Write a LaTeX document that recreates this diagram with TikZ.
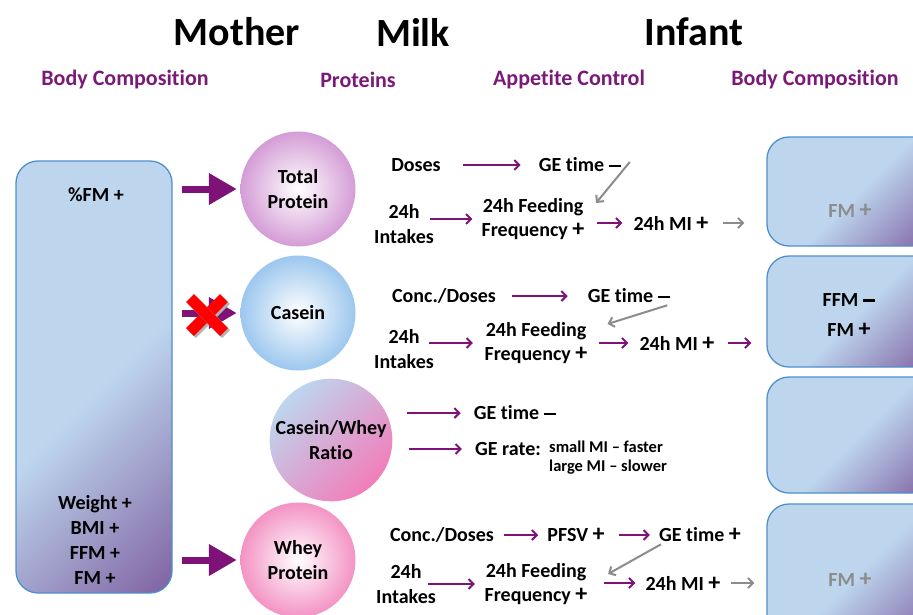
\documentclass[tikz,border=0pt]{standalone}
\usepackage{fontspec}
\setmainfont{Carlito}[Ligatures=NoCommon]
\usepackage{tikz}
\usetikzlibrary{arrows.meta, calc, positioning}

\definecolor{hdpurple}{HTML}{7A1A78}
\definecolor{arrpurple}{HTML}{7E1276}
\definecolor{arrgrey}{HTML}{8C8C8C}
\definecolor{boxblue}{HTML}{BDD6EE}
\definecolor{boxviolet}{HTML}{7E5FA0}
\definecolor{boxedge}{HTML}{4F8FCB}
\definecolor{tpcol}{HTML}{D49CD6}
\definecolor{cascol}{HTML}{9CC7EE}
\definecolor{wheycol}{HTML}{F393C4}
\definecolor{ratpink}{HTML}{F27DBA}

\pgfdeclarehorizontalshading{bodyshade}{100bp}{color(0bp)=(boxblue); color(52bp)=(boxblue); color(86bp)=(boxviolet); color(100bp)=(boxviolet)}

% heavy signs
\newcommand{\dminus}{\rule[0.24em]{0.62em}{0.11em}}
\newcommand{\bplus}{{\fontsize{24}{24}\selectfont +}}

\begin{document}
\begin{tikzpicture}[x=1pt,y=-1pt,
	txt/.style={font=\bfseries\fontsize{20}{24.5}\selectfont, align=center, inner sep=2pt},
	small/.style={font=\bfseries\fontsize{16.5}{19}\selectfont, inner sep=0pt},
	ttl/.style={font=\bfseries\fontsize{40}{44}\selectfont},
	hdr/.style={font=\bfseries\fontsize{22}{26}\selectfont, text=hdpurple},
	bodybox/.style={draw=boxedge, line width=1.3pt, rounded corners=22pt, shade, shading=bodyshade, shading angle=-45},
	ball/.style={circle, minimum size=115pt, inner sep=0pt, txt},
	flow/.style={draw=arrpurple, line width=2pt, -{Straight Barb[length=5pt,width=10pt]}},
	greyflow/.style={flow, draw=arrgrey},
	bigarrow/.style={draw=arrpurple, line width=7pt, -{Triangle[length=28pt,width=30pt]}}]
		\useasboundingbox (0,0) rectangle (913,614);
		\clip (0,0) rectangle (913,614);
		
		% Titles
		\node[ttl] (mother) at (237,32) {Mother};
		\node[ttl] (milk) at (413,32) {Milk};
		\node[ttl] (infant) at (694,32) {Infant};
		\node[hdr] (hmom) at (125,80) {Body Composition};
		\node[hdr] (hprot) at (358,80) {Proteins};
		\node[hdr] (happ) at (569,80) {Appetite Control};
		\node[hdr] (hinf) at (815,80) {Body Composition};
		
		% Mother box
		\node[bodybox, minimum width=156pt, minimum height=432pt] (mombox) at (94,377) {};
		\node[txt] (pfm) at (96,195) {\%FM +};
		\node[txt, font=\bfseries\fontsize{20}{25}\selectfont] (anthro) at (95,540) {Weight +\\BMI +\\FFM +\\FM +};
		
		% Infant boxes
		\foreach \t/\b [count=\i] in {137/246,256/367,377/493,504/640}{
			\node[bodybox, minimum width=168pt, minimum height={(\b-\t)*1pt}] (inf\i) at (851,{(\t+\b)/2}) {};
		}
		\node[txt, text=arrgrey] (fm1) at (850,211) {FM \bplus};
		\node[txt] (ffm2) at (849,300) {FFM \dminus};
		\node[txt] (fm2) at (849,330) {FM \bplus};
		\node[txt, text=arrgrey] (fm4) at (850,580) {FM \bplus};
		
		% Protein circles
		\node[ball, inner color=white, outer color=tpcol] (tp) at (298,189) {Total\\Protein};
		\node[ball, inner color=white, outer color=cascol] (cas) at (298,313) {Casein};
		\node[ball, top color=boxblue, bottom color=ratpink, shading angle=45] (ratio) at (331,440) {Casein/Whey\\Ratio};
		\node[ball, inner color=white, outer color=wheycol] (whey) at (298,560) {Whey\\Protein};
		
		% big arrows
		\foreach \c in {tp,cas,whey}{
			\draw[bigarrow, shorten <=9pt, shorten >=3.5pt] (mombox.east |- \c) -- (\c);
		}
		% red cross
		\coordinate (cross) at (207,315);
		\foreach \s in {-1,1}{
			\draw[black!30, line width=11pt] ([shift={(-17,{-17*\s})}]cross) ++(2,2) -- ++(34,{34*\s});
			\draw[red, line width=11pt] ([shift={(-17,{-17*\s})}]cross) -- ([shift={(17,{17*\s})}]cross);
		}
		
		% Total protein
		\node[txt] (doses1) at (416,165) {Doses};
		\node[txt] (ge1) at (580,165) {GE time \dminus};
		\node[txt] (in1) at (404,224) {24h\\Intakes};
		\node[txt] (ff1) at (533,219) {24h Feeding\\Frequency \bplus};
		\node[txt] (mi1) at (671,223) {24h MI \bplus};
		\draw[flow, shorten <=20pt, shorten >=16pt] (doses1) -- (ge1);
		\draw[greyflow] ([shift={(6.5,-3)}]ge1.east) -- ([shift={(9.5,7)}]ff1.north east);
		\draw[flow, shorten <=-6pt, shorten >=7pt] (in1.east |- ff1) -- (ff1);
		\draw[flow, shorten <=10pt, shorten >=9pt] (ff1.east |- mi1) -- (mi1);
		\draw[greyflow, shorten <=12pt, shorten >=22pt] (mi1) -- (mi1 -| inf1.west);
		
		% Casein
		\node[txt] (conc2) at (444,296) {Conc./Doses};
		\node[txt] (ge2) at (629,296) {GE time \dminus};
		\node[txt] (in2) at (404,349) {24h\\Intakes};
		\node[txt] (ff2) at (536,343) {24h Feeding\\Frequency \bplus};
		\node[txt] (mi2) at (677,343) {24h MI \bplus};
		\draw[flow, shorten <=14pt, shorten >=18pt] (conc2) -- (ge2);
		\draw[greyflow] ([shift={(-5,0)}]ge2.south east) -- ([shift={(18,4)}]ff2.north east);
		\draw[flow, shorten <=-7pt, shorten >=9.5pt] (in2.east |- ff2) -- (ff2);
		\draw[flow, shorten <=9.5pt, shorten >=9pt] (ff2) -- (mi2);
		\draw[flow, shorten <=11pt, shorten >=15pt] (mi2) -- (mi2 -| inf2.west);
		
		% Casein/whey ratio
		\node[txt] (ge3) at (515,413) {GE time \dminus};
		\node[txt] (gr3) at (508,449) {GE rate:};
		\node[small, align=left, anchor=west] (rates3) at (549,458) {small MI – faster\\large MI – slower};
		\draw[flow, shorten <=14.5pt, shorten >=11pt] (ratio.east |- ge3) -- (ge3);
		\draw[flow, shorten <=16.5pt, shorten >=11pt] (ratio.east |- gr3) -- (gr3);
		
		% Whey protein
		\node[txt] (conc4) at (442,535) {Conc./Doses};
		\node[txt] (pfsv4) at (576,535) {PFSV \bplus};
		\node[txt] (ge4) at (700,535) {GE time \bplus};
		\node[txt] (in4) at (406,584) {24h\\Intakes};
		\node[txt] (ff4) at (536,584) {24h Feeding\\Frequency \bplus};
		\node[txt] (mi4) at (683,583) {24h MI \bplus};
		\draw[flow, shorten <=8pt, shorten >=7pt] (conc4) -- (pfsv4);
		\draw[flow, shorten <=12pt, shorten >=7pt] (pfsv4) -- (ge4);
		\draw[greyflow] ([shift={(4,0)}]ge4.south west) -- ([shift={(18.5,13)}]ff4.north east);
		\draw[flow, shorten <=-10pt, shorten >=7.5pt] (in4.east |- ff4) -- (ff4);
		\draw[flow, shorten <=14.5pt, shorten >=8pt] (ff4.east |- mi4) -- (mi4);
		\draw[greyflow, shorten <=8pt, shorten >=12pt] (mi4) -- (mi4 -| inf4.west);
	\end{tikzpicture}
\end{document}
